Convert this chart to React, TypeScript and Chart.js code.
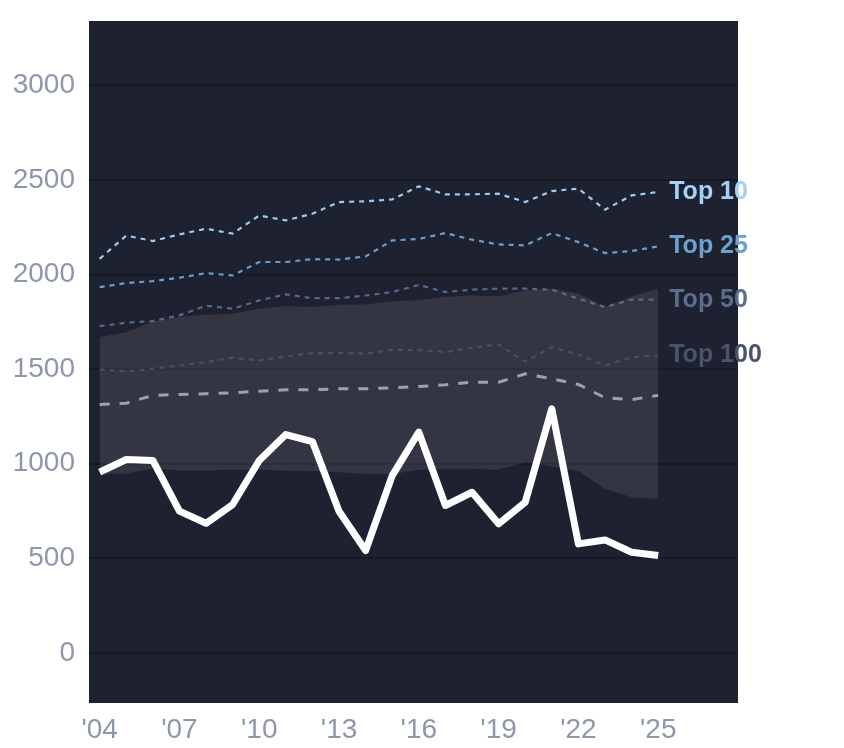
import { useEffect, useRef } from 'react';
import { Chart, registerables } from 'chart.js';

Chart.register(...registerables);

// years on the x axis
const years = [2004, 2005, 2006, 2007, 2008, 2009, 2010, 2011, 2012, 2013, 2014, 2015, 2016, 2017, 2018, 2019, 2020, 2021, 2022, 2023, 2024, 2025];
const xTicks = [2004, 2007, 2010, 2013, 2016, 2019, 2022, 2025];
const yTicks = [0, 500, 1000, 1500, 2000, 2500, 3000];

// main series (white)
const mainSeries = [955, 1022, 1017, 749, 685, 784, 1017, 1154, 1117, 749, 541, 937, 1167, 779, 849, 682, 796, 1290, 576, 597, 532, 515];
// grey dashed reference
const medianSeries = [1313, 1320, 1361, 1366, 1370, 1375, 1383, 1391, 1391, 1396, 1396, 1401, 1408, 1417, 1431, 1431, 1475, 1449, 1419, 1348, 1339, 1361];
const top10 = [2083, 2206, 2177, 2212, 2242, 2216, 2312, 2286, 2321, 2383, 2387, 2397, 2466, 2424, 2424, 2427, 2383, 2441, 2454, 2343, 2418, 2436];
const top25 = [1933, 1955, 1965, 1983, 2007, 1995, 2066, 2066, 2081, 2079, 2096, 2180, 2188, 2219, 2184, 2159, 2154, 2219, 2171, 2113, 2124, 2149];
const top50 = [1727, 1745, 1754, 1784, 1835, 1819, 1863, 1895, 1875, 1875, 1889, 1907, 1945, 1907, 1920, 1925, 1925, 1920, 1872, 1828, 1867, 1867];
const top100 = [1498, 1488, 1502, 1519, 1537, 1560, 1546, 1567, 1584, 1586, 1581, 1602, 1600, 1590, 1613, 1630, 1540, 1616, 1576, 1519, 1563, 1572];
// shaded band
const bandLow = [945, 948, 975, 964, 964, 968, 968, 964, 961, 955, 946, 946, 966, 973, 973, 968, 1008, 985, 960, 867, 823, 814];
const bandHigh = [1669, 1695, 1752, 1775, 1787, 1793, 1819, 1833, 1828, 1840, 1842, 1858, 1865, 1881, 1890, 1884, 1916, 1925, 1899, 1828, 1884, 1925];

const tierNames = ['Top 10', 'Top 25', 'Top 50', 'Top 100'];
const tierLines = ['#9ccbf0', '#6b9dc8', '#55698c', '#464f67'];
const tierText = ['#a3d2f7', '#6ca0cd', '#5a6d8e', '#4a536b'];

const FONT = "'Liberation Sans', Arial, Helvetica, sans-serif";

const pts = (vals: number[]) => vals.map((v, i) => ({ x: years[i], y: v }));

const plotBg = {
  id: 'plotBg',
  beforeDraw(chart: any) {
    const { ctx, chartArea: a } = chart;
    ctx.save();
    ctx.fillStyle = '#1e2130';
    ctx.fillRect(a.left, a.top, a.right - a.left, a.bottom - a.top);
    ctx.restore();
  },
};

const tierLabels = {
  id: 'tierLabels',
  afterDatasetsDraw(chart: any) {
    const { ctx } = chart;
    ctx.save();
    ctx.font = `bold 25px ${FONT}`;
    ctx.textBaseline = 'middle';
    ctx.textAlign = 'left';
    chart.data.datasets.forEach((ds: any, i: number) => {
      if (!ds.tierLabel) return;
      const meta = chart.getDatasetMeta(i);
      const last = meta.data[meta.data.length - 1];
      ctx.fillStyle = ds.labelColor;
      ctx.fillText(ds.tierLabel, last.x + 11, last.y);
    });
    ctx.restore();
  },
};

export default function App() {
  const canvasRef = useRef<HTMLCanvasElement>(null);

  useEffect(() => {
    if (!canvasRef.current) return;
    const tiers = [top10, top25, top50, top100].map((vals, i) => ({
      data: pts(vals),
      borderColor: tierLines[i],
      borderWidth: 2.2,
      borderDash: [5, 5],
      pointRadius: 0,
      fill: false,
      tierLabel: tierNames[i],
      labelColor: tierText[i],
    }));
    const chart = new Chart(canvasRef.current, {
      type: 'line',
      data: {
        datasets: [
          {
            data: pts(mainSeries),
            borderColor: '#ffffff',
            borderWidth: 7,
            borderJoinStyle: 'round',
            pointRadius: 0,
            fill: false,
          },
          {
            data: pts(medianSeries),
            borderColor: '#9ca1ab',
            borderWidth: 3,
            borderDash: [10, 10],
            pointRadius: 0,
            fill: false,
          },
          ...tiers,
          {
            data: pts(bandLow),
            borderWidth: 0,
            borderColor: 'rgba(0,0,0,0)',
            pointRadius: 0,
            fill: false,
          },
          {
            data: pts(bandHigh),
            borderWidth: 0,
            borderColor: 'rgba(0,0,0,0)',
            backgroundColor: 'rgba(255,255,255,0.095)',
            pointRadius: 0,
            fill: '-1',
          },
        ] as any,
      },
      options: {
        animation: false,
        responsive: true,
        maintainAspectRatio: false,
        layout: { padding: { top: 21, right: 106, left: 0, bottom: 0 } },
        plugins: { legend: { display: false }, tooltip: { enabled: false } },
        elements: { line: { tension: 0 } },
        scales: {
          x: {
            type: 'linear',
            min: 2003.6,
            max: 2028,
            afterBuildTicks: (axis: any) => {
              axis.ticks = xTicks.map((v) => ({ value: v }));
            },
            afterFit: (axis: any) => {
              axis.height = 45;
              axis.paddingLeft = 0;
              axis.paddingRight = 0;
            },
            grid: { display: false, drawTicks: false },
            border: { display: false },
            ticks: {
              padding: 10,
              color: '#8e97a8',
              font: { size: 28, family: FONT },
              maxRotation: 0,
              autoSkip: false,
              callback: (v: any) => "'" + String(v).slice(2),
            },
          },
          y: {
            min: -265,
            max: 3340,
            afterBuildTicks: (axis: any) => {
              axis.ticks = yTicks.map((v) => ({ value: v }));
            },
            afterFit: (axis: any) => {
              axis.width = 89;
              axis.paddingTop = 0;
              axis.paddingBottom = 0;
            },
            grid: { color: '#161a25', lineWidth: 2, drawTicks: false },
            border: { display: false },
            ticks: {
              padding: 14,
              color: '#8e97a8',
              font: { size: 28, family: FONT },
              callback: (v: any) => String(v),
            },
          },
        },
      },
      plugins: [plotBg, tierLabels],
    });
    return () => chart.destroy();
  }, []);

  return (
    <div style={{ position: 'fixed', left: 0, top: 0, width: 844, height: 748, background: '#ffffff' }}>
      <canvas ref={canvasRef} />
    </div>
  );
}
